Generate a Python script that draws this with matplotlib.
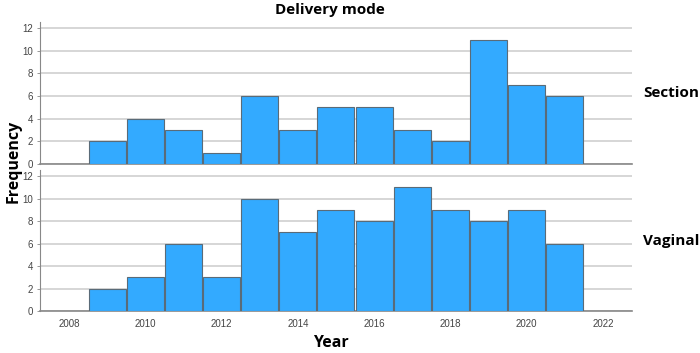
import matplotlib
matplotlib.use("Agg")
import matplotlib.pyplot as plt
import numpy as np

years = [2009, 2010, 2011, 2012, 2013, 2014, 2015, 2016, 2017, 2018, 2019, 2020, 2021]
section = [2, 4, 3, 1, 6, 3, 5, 5, 3, 2, 11, 7, 6]
vaginal = [2, 3, 6, 3, 10, 7, 9, 8, 11, 9, 8, 9, 6]
panels = ["Section", "Vaginal"]
xticks = [2008, 2010, 2012, 2014, 2016, 2018, 2020, 2022]
yticks = [0, 2, 4, 6, 8, 10, 12]

bar_color = "#33aaff"
edge_color = "#5a6b78"
grid_color = "#d0d0d0"

fig = plt.figure(figsize=(7, 3.53), dpi=100)
W, H = 700, 353
ax_top = fig.add_axes([40 / W, 1 - 164 / H, (632 - 40) / W, (164 - 22) / H])
ax_bot = fig.add_axes([40 / W, 1 - 311 / H, (632 - 40) / W, (311 - 170) / H])

for ax, vals, name, ycen in [(ax_top, section, panels[0], 93), (ax_bot, vaginal, panels[1], 241)]:
    ax.bar(years, vals, width=0.97, color=bar_color, edgecolor=edge_color, linewidth=0.8, zorder=3)
    ax.set_xlim(2007.24, 2022.76)
    ax.set_ylim(0, 12.55)
    ax.set_yticks(yticks)
    ax.yaxis.grid(True, color=grid_color, linewidth=1.2, zorder=0)
    ax.set_axisbelow(True)
    for s in ["top", "right"]:
        ax.spines[s].set_visible(False)
    ax.spines["left"].set_color("#888888")
    ax.spines["bottom"].set_color("#888888")
    ax.spines["bottom"].set_linewidth(1.2)
    ax.tick_params(axis="y", labelsize=7, labelcolor="#444444", color="#888888", length=2, width=0.6, pad=3)
    ax.tick_params(axis="x", labelsize=7, labelcolor="#444444", length=0, pad=6)
    for lbl in ax.get_yticklabels() + ax.get_xticklabels():
        lbl.set_family("Liberation Sans")
    fig.text(643 / W, 1 - ycen / H, name, fontsize=11, fontweight="bold",
             family="Open Sans", ha="left", va="center")

ax_top.set_xticks(xticks)
ax_top.tick_params(axis="x", labelbottom=False)
ax_bot.set_xticks(xticks)
ax_bot.set_xticklabels([str(x) for x in xticks])

fig.text(330 / W, 1 - 10 / H, "Delivery mode", fontsize=11, fontweight="bold",
         family="Open Sans", ha="center", va="center")
fig.text(14 / W, 1 - 161 / H, "Frequency", fontsize=11.5, fontweight="bold",
         family="Open Sans", ha="center", va="center", rotation=90)
fig.text(331 / W, 1 - 343 / H, "Year", fontsize=11.5, fontweight="bold",
         family="Open Sans", ha="center", va="center")

fig.savefig("out.png", dpi=100)
